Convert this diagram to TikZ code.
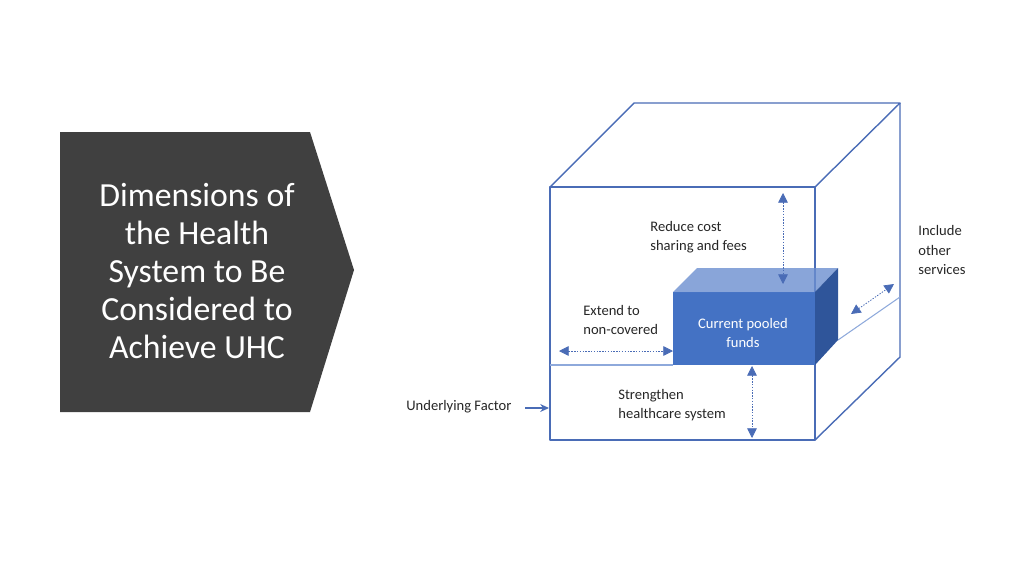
\documentclass[tikz,border=0pt]{standalone}
\usepackage{fontspec}
\setmainfont{Carlito}
\usetikzlibrary{arrows.meta,positioning}
\definecolor{ChevGray}{HTML}{404040}
\definecolor{CubeLine}{HTML}{4A6CB6}
\definecolor{DivLine}{HTML}{8EA9DB}
\definecolor{PoolFront}{HTML}{4472C4}
\definecolor{PoolTop}{HTML}{6B8ED0}
\definecolor{PoolSide}{HTML}{2F559A}
\tikzset{
  cubeEdge/.style={draw=CubeLine, line width=0.8pt, line join=round},
  divEdge/.style={draw=DivLine, line width=0.6pt},
  dimArrow/.style={CubeLine, dash pattern=on 0.8pt off 0.8pt, line width=0.45pt,
    {Triangle[length=5.5pt,width=5.5pt]}-{Triangle[length=5.5pt,width=5.5pt]}},
  factorArrow/.style={CubeLine, line width=0.6pt, -{Stealth[length=5pt,width=4.5pt]}},
  smallLabel/.style={font=\fontsize{8.3}{10.9}\selectfont, align=left, anchor=west, inner sep=0pt, text=black!85}
}

\begin{document}
\begin{tikzpicture}[x=0.02cm,y=-0.02cm]
  \useasboundingbox (0,0) rectangle (1024,576);
  % title chevron
  \fill[ChevGray] (60,132) -- (310,132) -- (354,270) -- (310,412) -- (60,412) -- cycle;
  \node[text=white, font=\fontsize{19.2}{21.6}\selectfont, align=center, inner sep=0pt] (title) at (197,271)
    {Dimensions of\\the Health\\System to Be\\Considered to\\Achieve UHC};

  % outer cube
  \coordinate (fTL) at (550,187);
  \coordinate (fTR) at (815,187);
  \coordinate (fBR) at (815,440);
  \coordinate (fBL) at (550,440);
  \coordinate (bTL) at (634,103);
  \coordinate (bTR) at (900,103);
  \coordinate (bBR) at (900,357);
  \draw[cubeEdge] (fTL) -- (fTR) -- (fBR) -- (fBL) -- cycle;
  \draw[cubeEdge] (fTL) -- (bTL) -- (bTR) -- (fTR);
  \draw[cubeEdge] (bTR) -- (bBR) -- (fBR);

  % pooled funds box
  \coordinate (pTL) at (673,292);
  \coordinate (pTR) at (815,292);
  \coordinate (pBR) at (815,365);
  \coordinate (pBL) at (673,365);
  \coordinate (pkTL) at (697,268);
  \coordinate (pkTR) at (838,268);
  \coordinate (pkBR) at (838,340);
  \draw[divEdge] (550,365) -- (pBL);
  \draw[divEdge] (pkBR) -- (900,297);
  \fill[PoolFront] (pTL) rectangle (pBR);
  \fill[PoolTop, fill opacity=0.8] (pTL) -- (pkTL) -- (pkTR) -- (pTR) -- cycle;
  \fill[PoolSide] (pTR) -- (pkTR) -- (pkBR) -- (pBR) -- cycle;
  \node[text=white, font=\fontsize{8.3}{11.2}\selectfont, align=center, inner sep=0pt] (pool) at (743,333)
    {Current pooled\\funds};

  % dimensions
  \coordinate (costTop) at (783,193);
  \coordinate (costBot) at (783,284);
  \coordinate (extL) at (559,351);
  \coordinate (extR) at (673,351);
  \coordinate (sysTop) at (752,366);
  \coordinate (sysBot) at (752,438);
  \coordinate (svcIn) at (851,314);
  \coordinate (svcOut) at (894,284);
  \draw[dimArrow] (costTop) -- (costBot);
  \draw[dimArrow] (extL) -- (extR);
  \draw[dimArrow] (sysTop) -- (sysBot);
  \draw[dimArrow] (svcIn) -- (svcOut);

  \node[smallLabel] (cost) at (650,237.5) {Reduce cost\\sharing and fees};
  \node[smallLabel] (ext) at (583,320) {Extend to\\non-covered};
  \node[smallLabel] (sys) at (618,405.5) {Strengthen\\healthcare system};
  \node[smallLabel, font=\fontsize{8.3}{11.2}\selectfont] (svc) at (918,250) {Include\\other\\services};
  \node[smallLabel] (factor) at (406,407) {Underlying Factor};

  \coordinate (factorStart) at (525,408);
  \coordinate (factorEnd) at (549,408);
  \draw[factorArrow] (factorStart) -- (factorEnd);
\end{tikzpicture}
\end{document}
